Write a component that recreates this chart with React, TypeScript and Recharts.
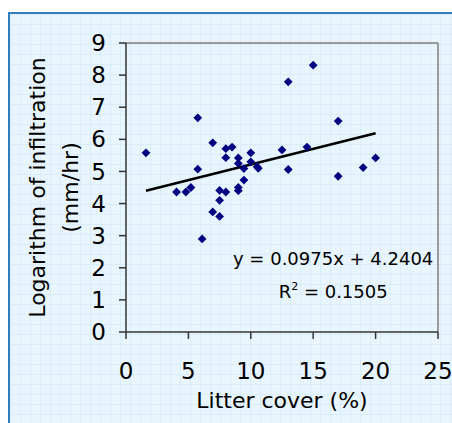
import React from "react";
import {
  ScatterChart,
  Scatter,
  XAxis,
  YAxis,
  ReferenceLine,
  ReferenceDot,
} from "recharts";

// litter cover (%) and log infiltration (mm/hr)
const litterCover = [
  1.6, 4.05, 4.8, 5.2, 5.75, 5.75, 6.1, 6.95, 6.95, 7.5, 7.5, 7.5, 8.0, 8.0,
  8.0, 8.5, 9.0, 9.0, 9.0, 9.0, 9.45, 9.45, 10.0, 10.0, 10.5, 10.6, 12.5, 13.0,
  13.0, 14.5, 15.0, 17.0, 17.0, 19.0, 20.0,
];
const logInfiltration = [
  5.58, 4.36, 4.36, 4.5, 6.67, 5.07, 2.9, 5.89, 3.74, 4.41, 4.1, 3.6, 4.36,
  5.71, 5.43, 5.76, 5.42, 5.25, 4.5, 4.4, 4.73, 5.09, 5.58, 5.3, 5.15, 5.1,
  5.67, 7.79, 5.06, 5.76, 8.31, 6.57, 4.85, 5.12, 5.42,
];

const xTicks = [0, 5, 10, 15, 20, 25];
const yTicks = [0, 1, 2, 3, 4, 5, 6, 7, 8, 9];

// linear trend from the chart's own equation
const slope = 0.0975;
const intercept = 4.2404;
const rSquared = 0.1505;

const FONT = "DejaVu Sans";

const points = litterCover.map((x, i) => ({ x, y: logInfiltration[i] }));
const xMin = Math.min(...litterCover);
const xMax = Math.max(...litterCover);

const Diamond = (props: any) => {
  const { cx, cy } = props;
  const h = 4.4;
  return (
    <path
      d={`M${cx},${cy - h}L${cx + h},${cy}L${cx},${cy + h}L${cx - h},${cy}Z`}
      fill="#000080"
    />
  );
};

const YLabel = (props: any) => {
  const vb = props.viewBox || {};
  const cy = vb.y + vb.height / 2;
  const x1 = vb.x + 44.5;
  const x2 = vb.x + 77.5;
  return (
    <g fontFamily={FONT} fontSize={22} fill="#000">
      <text x={x1} y={cy} textAnchor="middle" transform={`rotate(-90, ${x1}, ${cy})`}>
        Logarithm of infiltration
      </text>
      <text x={x2} y={cy} textAnchor="middle" transform={`rotate(-90, ${x2}, ${cy})`}>
        (mm/hr)
      </text>
    </g>
  );
};

const Equation = (props: any) => {
  const vb = props.viewBox || {};
  const x = vb.x + (vb.width || 0) / 2;
  const y = vb.y + (vb.height || 0) / 2;
  return (
    <g fontFamily={FONT} fontSize={18} fill="#000">
      <text x={x} y={y} textAnchor="middle">
        {`y = ${slope}x + ${intercept}`}
      </text>
      <text x={x} y={y + 33} textAnchor="middle">
        R<tspan fontSize={11} dy={-8}>2</tspan>
        <tspan dy={8}>{` = ${rSquared}`}</tspan>
      </text>
    </g>
  );
};

export default function App() {
  return (
    <div
      style={{
        position: "absolute",
        left: 0,
        top: 0,
        width: 452,
        height: 423,
        background: "#fff",
        overflow: "hidden",
      }}
    >
      <div
        style={{
          position: "absolute",
          left: 8,
          top: 12,
          right: 0,
          bottom: 0,
          borderLeft: "2px solid #2f7fbf",
          borderTop: "2px solid #2f7fbf",
          backgroundColor: "#e9f5fd",
          backgroundImage:
            "linear-gradient(#d8ecf9 1px, transparent 1px), linear-gradient(90deg, #d8ecf9 1px, transparent 1px)",
          backgroundSize: "10px 10px",
        }}
      />
      <div style={{ position: "absolute", left: 0, top: 0 }}>
        <ScatterChart
          width={452}
          height={423}
          margin={{ top: 43, right: 14, left: 0, bottom: 0 }}
          style={{ fontFamily: FONT }}
        >
          <XAxis
            type="number"
            dataKey="x"
            domain={[0, 25]}
            ticks={xTicks}
            interval={0}
            height={91}
            tickSize={7}
            tickMargin={24}
            stroke="#333"
            strokeWidth={1.5}
            tick={{ fill: "#000", fontSize: 23, fontFamily: FONT }}
            label={{
              value: "Litter cover (%)",
              position: "insideBottom",
              offset: 15,
              fill: "#000",
              fontSize: 22,
              fontFamily: FONT,
            }}
          />
          <YAxis
            type="number"
            dataKey="y"
            domain={[0, 9]}
            ticks={yTicks}
            interval={0}
            width={126}
            tickSize={7}
            tickMargin={13}
            stroke="#333"
            strokeWidth={1.5}
            tick={{ fill: "#000", fontSize: 23, fontFamily: FONT }}
            label={<YLabel />}
          />
          <ReferenceLine y={9} stroke="#9a9a9a" strokeWidth={2} />
          <ReferenceLine x={25} stroke="#9a9a9a" strokeWidth={2} />
          <ReferenceLine
            segment={[
              { x: xMin, y: slope * xMin + intercept },
              { x: xMax, y: slope * xMax + intercept },
            ]}
            stroke="#000"
            strokeWidth={2.5}
          />
          <Scatter data={points} shape={<Diamond />} isAnimationActive={false} />
          <ReferenceDot
            x={16.6}
            y={2.1}
            r={0}
            fill="none"
            stroke="none"
            label={<Equation />}
          />
        </ScatterChart>
      </div>
    </div>
  );
}
